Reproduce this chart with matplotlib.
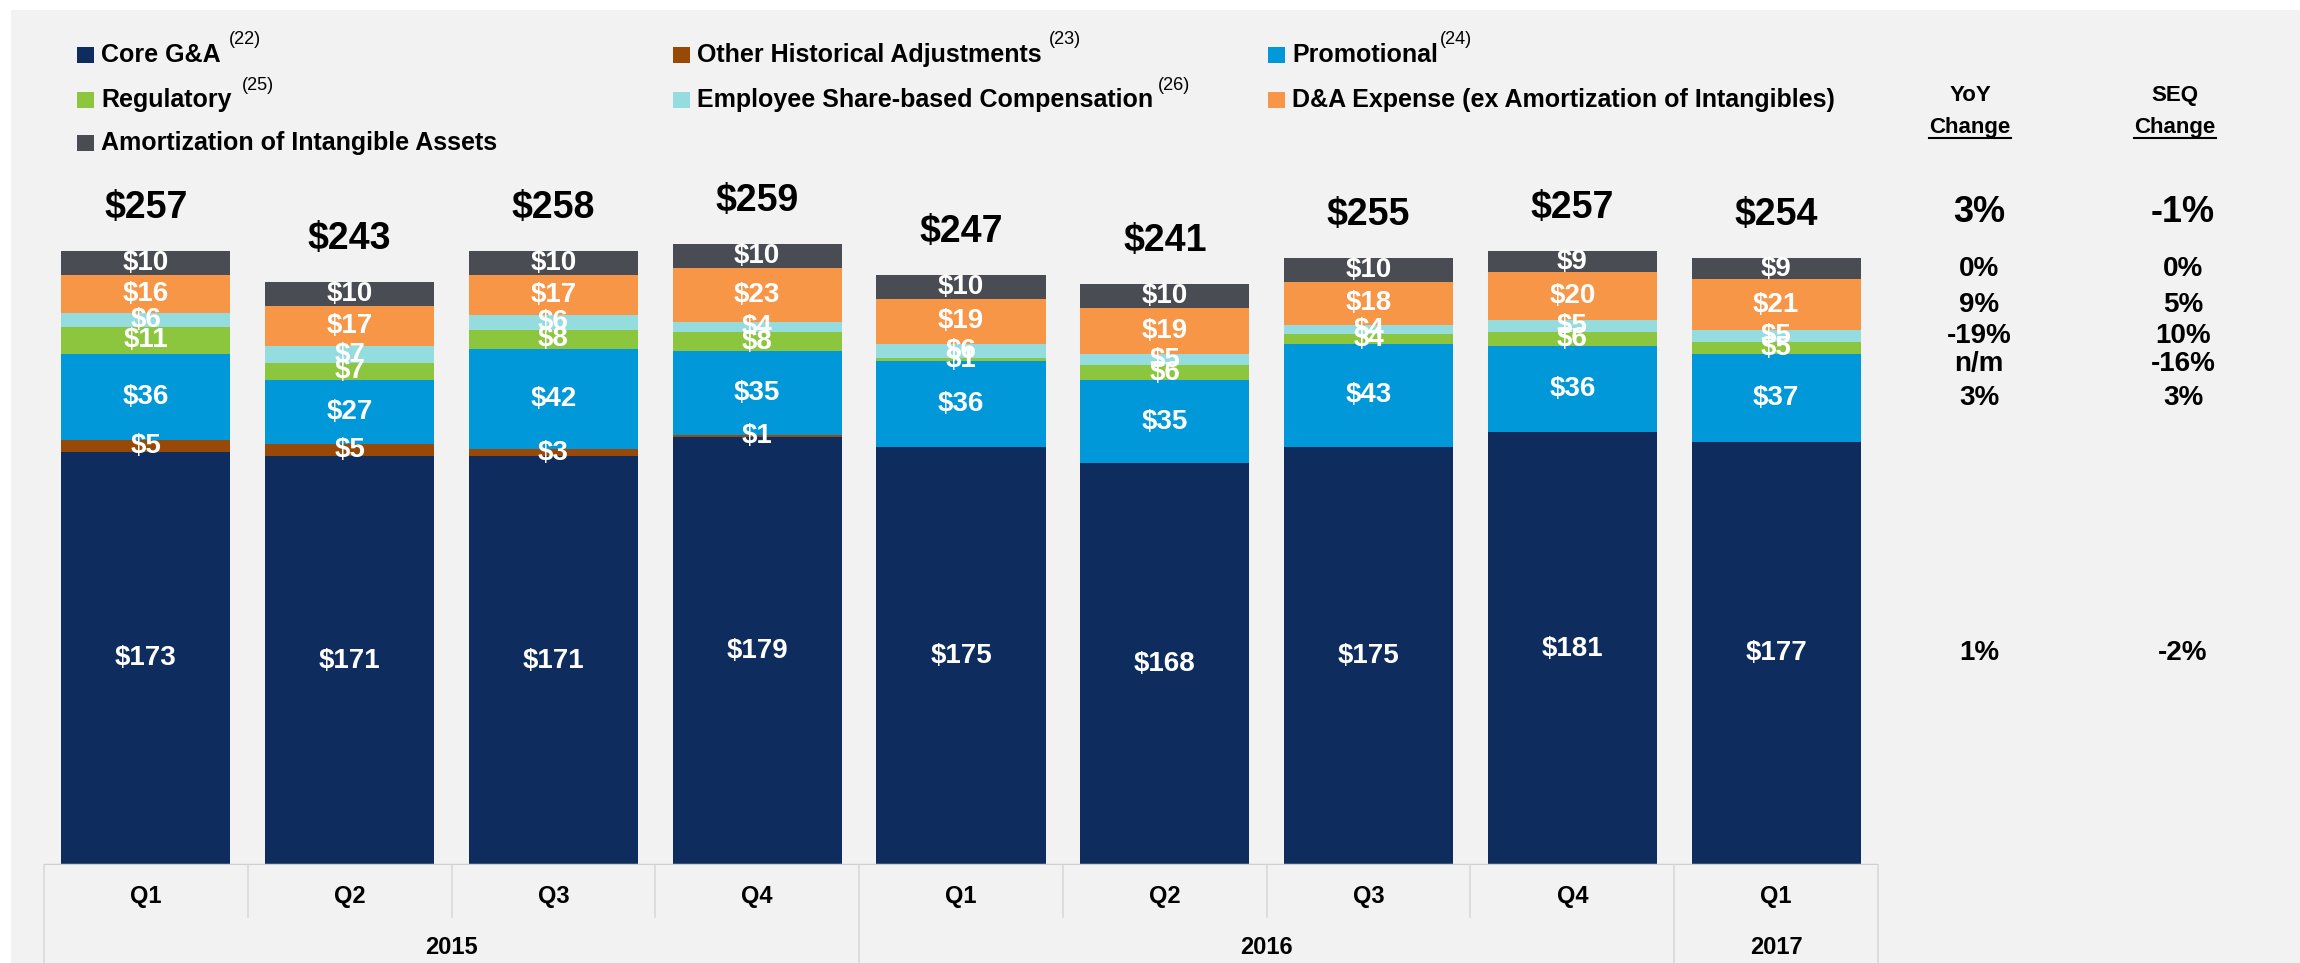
import matplotlib
matplotlib.use('Agg')
import matplotlib.pyplot as plt
from matplotlib.patches import Rectangle
from matplotlib.lines import Line2D
from matplotlib.transforms import blended_transform_factory

plt.rcParams['font.family'] = ['Liberation Sans', 'DejaVu Sans']

# ---- data ----
quarters = ['Q1', 'Q2', 'Q3', 'Q4', 'Q1', 'Q2', 'Q3', 'Q4', 'Q1']
bar_years = ['2015', '2015', '2015', '2015', '2016', '2016', '2016', '2016', '2017']

core_ga = [173, 171, 171, 179, 175, 168, 175, 181, 177]
other_hist = [5, 5, 3, 1, 0, 0, 0, 0, 0]
promotional = [36, 27, 42, 35, 36, 35, 43, 36, 37]
regulatory = [11, 7, 8, 8, 1, 6, 4, 6, 5]
share_comp = [6, 7, 6, 4, 6, 5, 4, 5, 5]
da_expense = [16, 17, 17, 23, 19, 19, 18, 20, 21]
amortization = [10, 10, 10, 10, 10, 10, 10, 9, 9]
totals = [257, 243, 258, 259, 247, 241, 255, 257, 254]

series_names = ['Core G&A', 'Other Historical Adjustments', 'Promotional', 'Regulatory',
                'Employee Share-based Compensation', 'D&A Expense (ex Amortization of Intangibles)',
                'Amortization of Intangible Assets']
series_values = [core_ga, other_hist, promotional, regulatory, share_comp, da_expense, amortization]
series_colors = ['#0e2c5d', '#984807', '#0098d9', '#8cc63f', '#95dcdf', '#f79647', '#494c52']
footnotes = ['(22)', '(23)', '(24)', '(25)', '(26)', '', '']

total_yoy = '3%'
total_seq = '-1%'
yoy_change = {'Core G&A': '1%', 'Promotional': '3%', 'Regulatory': 'n/m',
              'Employee Share-based Compensation': '-19%',
              'D&A Expense (ex Amortization of Intangibles)': '9%',
              'Amortization of Intangible Assets': '0%'}
seq_change = {'Core G&A': '-2%', 'Promotional': '3%', 'Regulatory': '-16%',
              'Employee Share-based Compensation': '10%',
              'D&A Expense (ex Amortization of Intangibles)': '5%',
              'Amortization of Intangible Assets': '0%'}

W, H = 2300, 963
fig = plt.figure(figsize=(W / 100, H / 100), dpi=100)
fig.patch.set_facecolor('white')
fig.patches.append(Rectangle((11 / W, 0), 1 - 11 / W, 1 - 10 / H, transform=fig.transFigure,
                             facecolor='#f2f2f2', edgecolor='none', zorder=-5))

ax = fig.add_axes([44 / W, 1 - 865 / H, 1834 / W, 855 / H])
ax.set_facecolor('none')
ax.set_xlim(-0.5, len(quarters) - 0.5)
ax.set_ylim(0, 855 / 2.39)
for s in ax.spines.values():
    s.set_visible(False)
ax.set_xticks([])
ax.set_yticks([])

x = list(range(len(quarters)))
bottom = [0] * len(quarters)
centers = {}
for name, vals, col in zip(series_names, series_values, series_colors):
    ax.bar(x, vals, width=0.83, bottom=bottom, color=col, edgecolor='none', zorder=2)
    centers[name] = [b + v / 2 for b, v in zip(bottom, vals)]
    for xi, b, v in zip(x, bottom, vals):
        if v > 0:
            ax.text(xi, b + v / 2, f'${v}', ha='center', va='center', color='white',
                    fontsize=20, fontweight='bold', zorder=3)
    bottom = [b + v for b, v in zip(bottom, vals)]

for xi, top, t in zip(x, bottom, totals):
    ax.text(xi, top + 18, f'${t}', ha='center', va='center', fontsize=27,
            fontweight='bold', color='black')

# category axis table
grid = '#d9d9d9'
ax.axhline(0, color='#d0d0d0', lw=2.5, zorder=4)
tr = blended_transform_factory(ax.transData, ax.transAxes)
year_edges = [-0.5]
for i in range(1, len(bar_years)):
    if bar_years[i] != bar_years[i - 1]:
        year_edges.append(i - 0.5)
year_edges.append(len(bar_years) - 0.5)
for i in range(len(quarters) + 1):
    xe = i - 0.5
    ybot = -98 / 855 if xe in year_edges else -52 / 855
    ax.add_line(Line2D([xe, xe], [0, ybot], transform=tr, color=grid, lw=1.2, clip_on=False))
for xi, q in zip(x, quarters):
    ax.text(xi, -32 / 855, q, transform=tr, ha='center', va='center', fontsize=17,
            fontweight='bold')
for a, b in zip(year_edges[:-1], year_edges[1:]):
    ax.text((a + b) / 2, -82 / 855, bar_years[int(a + 0.5)], transform=tr, ha='center',
            va='center', fontsize=17, fontweight='bold')

# legend
leg_cols = [77, 673, 1268]
leg_rows = [55, 100, 143]
leg_pos = [(0, 0), (1, 0), (2, 0), (0, 1), (1, 1), (2, 1), (0, 2)]
sup_gap = [8, 7, 2, 10, 5, 0, 0]
renderer = fig.canvas.get_renderer()
for name, col, (c, r), fn, gap in zip(series_names, series_colors, leg_pos, footnotes, sup_gap):
    mx, my = leg_cols[c], leg_rows[r]
    fig.patches.append(Rectangle((mx / W, 1 - (my + 8) / H), 17 / W, 16 / H,
                                 transform=fig.transFigure, facecolor=col, edgecolor='none'))
    t = fig.text((mx + 24) / W, 1 - my / H, name, ha='left', va='center', fontsize=18,
                 fontweight='bold')
    if fn:
        bb = t.get_window_extent(renderer=renderer)
        fig.text((bb.x1 + gap) / W, 1 - (my - 15) / H, fn, ha='left', va='center', fontsize=13)

# change columns
yoy_x, seq_x = 1979 / W, 2183 / W
for hx, head in [(1970 / W, 'YoY'), (2175 / W, 'SEQ')]:
    fig.text(hx, 1 - 95 / H, head, ha='center', va='center', fontsize=16, fontweight='bold')
    t = fig.text(hx, 1 - 127 / H, 'Change', ha='center', va='center', fontsize=16,
                 fontweight='bold')
    bb = t.get_window_extent(renderer=renderer)
    fig.add_artist(Line2D([bb.x0 / W, bb.x1 / W], [1 - 138 / H, 1 - 138 / H],
                          transform=fig.transFigure, color='black', lw=1.5))
fig.text(yoy_x, 1 - 213 / H, total_yoy, ha='center', va='center', fontsize=26, fontweight='bold')
fig.text(seq_x, 1 - 213 / H, total_seq, ha='center', va='center', fontsize=26, fontweight='bold')

tr_right = blended_transform_factory(fig.transFigure, ax.transData)
nudge = {'Regulatory': -7}
for name in series_names:
    if name not in yoy_change:
        continue
    yc = centers[name][-1] + nudge.get(name, 0)
    fig.text(yoy_x, yc, yoy_change[name], transform=tr_right, ha='center', va='center',
             fontsize=20, fontweight='bold')
    fig.text(seq_x, yc, seq_change[name], transform=tr_right, ha='center', va='center',
             fontsize=20, fontweight='bold')

fig.savefig('out.png', dpi=100)
